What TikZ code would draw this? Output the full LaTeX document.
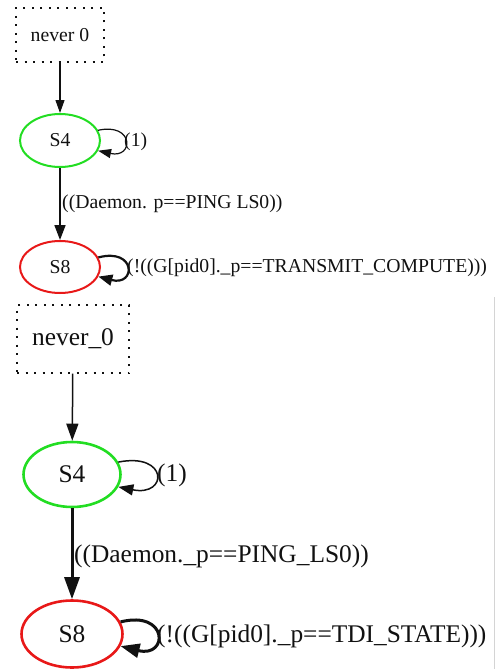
\documentclass[tikz,border=0pt]{standalone}
\usepackage{fontspec}
\setmainfont{Liberation Serif}
\usetikzlibrary{arrows.meta,shapes.geometric}
\definecolor{stateink}{HTML}{111111}
\definecolor{initgreen}{HTML}{22DD22}
\definecolor{acceptred}{HTML}{E81818}
\definecolor{framegray}{HTML}{D4D4D4}

\begin{document}
\begin{tikzpicture}[x=1pt, y=-1pt, stateink,
    nevbox/.style={draw, line width=1.3pt, dash pattern=on 2pt off 6.5pt,
                   rectangle, inner sep=0pt},
    initstate/.style={draw=initgreen, ellipse, inner sep=0pt},
    endstate/.style={draw=acceptred, ellipse, inner sep=0pt},
    guard/.style={anchor=west, inner sep=0pt}]

\useasboundingbox (0,0) rectangle (496,669);

%% ==== upper automaton ===============================================
\begin{scope}[every node/.style={font=\fontsize{19.7}{22}\selectfont},
              >={Triangle[length=13pt, width=9pt]}]

  \node[nevbox, minimum width=88pt, minimum height=54pt] (nevA) at (60,35) {never 0};
  \node[initstate, line width=2pt, minimum width=80pt, minimum height=53pt]
    (sfourA) at (60,140.5) {S4};
  \node[endstate, line width=2pt, minimum width=80pt, minimum height=52pt]
    (seightA) at (60,267) {S8};

  %% transitions
  \draw[line width=1.2pt, ->] (nevA) -- (sfourA);
  \draw[line width=1.7pt, -{Triangle[length=15pt, width=11pt]}] (sfourA) -- (seightA);

  %% self loops
  \draw[line width=1.2pt, ->] (sfourA.15) .. controls +(36,-8) and +(36,8) .. (sfourA.-15);
  \draw[line width=2.2pt, -{Triangle[length=14pt, width=11pt]}]
    (seightA.14) .. controls +(38,-10) and +(38,10) .. (seightA.-14);

  %% guards
  \node[guard] (gloopA) at (124,142) {(1)};
  \node[guard] (gmoveA) at (62,204) {((Daemon. p==PING LS0))};
  \node[guard] (gstayA) at (127,268) {(!((G[pid0].\_p==TRANSMIT\_COMPUTE)))};

\end{scope}

%% ==== lower automaton ===============================================
\begin{scope}[every node/.style={font=\fontsize{25.4}{28}\selectfont},
              >={Triangle[length=17pt, width=12pt]}]

  \node[nevbox, minimum width=112pt, minimum height=68pt] (nevB) at (73,339) {never\_0};
  \node[initstate, line width=2.6pt, minimum width=97pt, minimum height=65pt]
    (sfourB) at (72,474.5) {S4};
  \node[endstate, line width=2.6pt, minimum width=101pt, minimum height=67pt]
    (seightB) at (72,634) {S8};

  %% transitions
  \draw[line width=1.5pt, ->] (nevB) -- (sfourB);
  \draw[line width=3pt, -{Triangle[length=22pt, width=15pt]}] (sfourB) -- (seightB);

  %% self loops
  \draw[line width=1.5pt, -{Triangle[length=15pt, width=11pt]}]
    (sfourB.15) .. controls +(50,-10) and +(50,10) .. (sfourB.-15);
  \draw[line width=3pt, -{Triangle[length=19pt, width=14pt]}]
    (seightB.14) .. controls +(48,-12) and +(48,12) .. (seightB.-14);

  %% guards
  \node[guard] (gloopB) at (157,475) {(1)};
  \node[guard] (gmoveB) at (74,556) {((Daemon.\_p==PING\_LS0))};
  \node[guard] (gstayB) at (157,636) {(!((G[pid0].\_p==TDI\_STATE)))};

\end{scope}

%% edge of the lower panel
\draw[framegray, line width=1pt] (494.5,297) -- (494.5,669);

\end{tikzpicture}
\end{document}
